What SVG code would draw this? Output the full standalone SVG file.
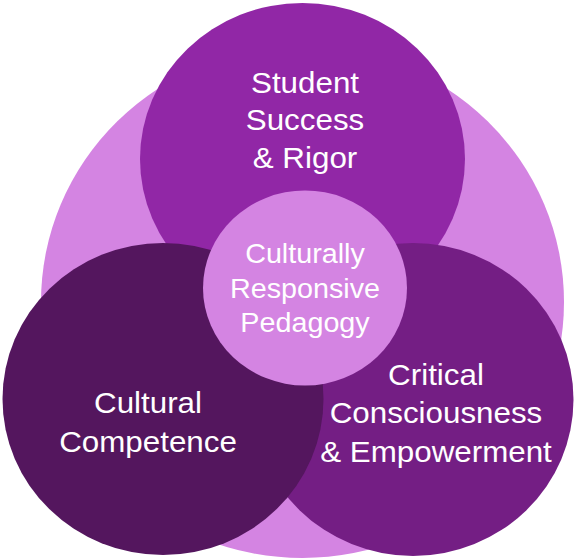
<svg xmlns="http://www.w3.org/2000/svg" width="574" height="558" viewBox="0 0 574 558">
<style>
.lbl{font-family:"Liberation Sans",Arial,sans-serif;fill:#ffffff;text-anchor:middle}
.big{font-size:30px}
.mid{font-size:27.5px}
</style>
<rect width="574" height="558" fill="#ffffff"/>
<g id="background">
<ellipse cx="302.5" cy="302" rx="261.5" ry="256" fill="#d484e2"/>
</g>
<g id="student-success">
<ellipse cx="302.5" cy="159" rx="162.5" ry="156" fill="#9127a6"/>
<g transform="translate(305,0) scale(1.045,1)">
<text class="lbl big" x="0" y="93">Student</text>
<text class="lbl big" x="0" y="130.5">Success</text>
<text class="lbl big" x="0" y="168">&amp; Rigor</text>
</g>
</g>
<g id="critical-consciousness">
<ellipse cx="413" cy="399.5" rx="160.5" ry="156.5" fill="#741e84"/>
<g transform="translate(436,0) scale(1.045,1)">
<text class="lbl big" x="0" y="385">Critical</text>
<text class="lbl big" x="0" y="423.5">Consciousness</text>
<text class="lbl big" x="0" y="462">&amp; Empowerment</text>
</g>
</g>
<g id="cultural-competence">
<ellipse cx="163" cy="399" rx="160.5" ry="156" fill="#54165e"/>
<g transform="translate(148,0) scale(1.045,1)">
<text class="lbl big" x="0" y="413.5">Cultural</text>
<text class="lbl big" x="0" y="452">Competence</text>
</g>
</g>
<g id="culturally-responsive">
<ellipse cx="305" cy="288" rx="102" ry="97.5" fill="#d484e2"/>
<g transform="translate(305,0) scale(1.045,1)">
<text class="lbl mid" x="0" y="263.5">Culturally</text>
<text class="lbl mid" x="0" y="298">Responsive</text>
<text class="lbl mid" x="0" y="332">Pedagogy</text>
</g>
</g>
<g id="connectors"></g>
</svg>
